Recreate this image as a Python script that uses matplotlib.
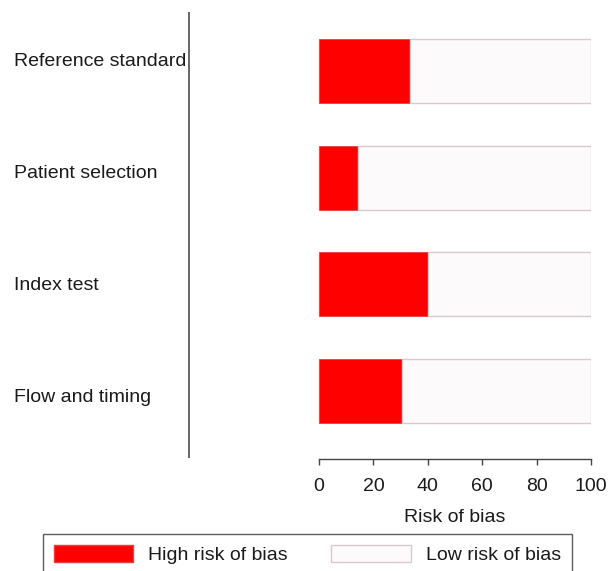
import matplotlib
matplotlib.use("Agg")
import matplotlib.pyplot as plt
from matplotlib.patches import Patch

plt.rcParams['font.family'] = ['Liberation Sans', 'DejaVu Sans']
plt.rcParams['font.size'] = 14

# QUADAS-2 domains, top to bottom
domains = ["Reference standard", "Patient selection", "Index test", "Flow and timing"]
high_risk = [33.5, 14.5, 40.0, 30.5]
low_risk = [100 - v for v in high_risk]
x_ticks = [0, 20, 40, 60, 80, 100]

RED = "#ff0000"
LOW_FACE = "#fdfafb"
LOW_EDGE = "#dac8cd"
TXT = "#1a1a1a"

W, H = 611, 571
fig = plt.figure(figsize=(W / 100, H / 100), dpi=100)

# ── left panel: domain labels + divider line ──
axl = fig.add_axes([0, 1 - 457 / H, 189 / W, 444 / H])
axl.set_xlim(0, 1)
axl.set_ylim(3.531, -0.433)
for s in ["top", "bottom", "left"]:
    axl.spines[s].set_visible(False)
axl.spines["right"].set_color("#666666")
axl.spines["right"].set_linewidth(1.4)
axl.set_xticks([]); axl.set_yticks([])
for i, name in enumerate(domains):
    axl.text(14 / 189, i, name, ha="left", va="center", color=TXT, fontsize=14)

# ── right panel: stacked horizontal bars ──
ax = fig.add_axes([319 / W, 1 - 459 / H, 272 / W, 446 / H])
y = list(range(len(domains)))
ax.barh(y, high_risk, height=0.6, color=RED, edgecolor="#e04040", linewidth=0.6)
ax.barh(y, low_risk, left=high_risk, height=0.6, color=LOW_FACE,
        edgecolor=LOW_EDGE, linewidth=1.0)
ax.set_xlim(0, 100)
ax.set_ylim(3.64, -0.544)
for s in ["top", "right", "left"]:
    ax.spines[s].set_visible(False)
ax.spines["bottom"].set_color("#444444")
ax.spines["bottom"].set_linewidth(1.0)
ax.set_yticks([])
ax.set_xticks(x_ticks)
ax.tick_params(axis="x", direction="out", length=4.5, width=1.0, color="#444444",
               pad=9, labelsize=14, labelcolor=TXT)
ax.set_xlabel("Risk of bias", fontsize=14, color=TXT, labelpad=10)

# ── legend along the bottom ──
handles = [Patch(facecolor=RED, edgecolor="#e04040", label="High risk of bias"),
           Patch(facecolor=LOW_FACE, edgecolor=LOW_EDGE, label="Low risk of bias")]
leg = fig.legend(handles=handles, loc="upper left", bbox_to_anchor=(43 / W, 1 - 534 / H),
                 ncol=2, frameon=True, fancybox=False, borderaxespad=0,
                 handlelength=4.1, handleheight=1.0, handletextpad=0.75,
                 columnspacing=2.25, borderpad=0.55, fontsize=14)
leg.get_frame().set_edgecolor("#333333")
leg.get_frame().set_linewidth(1.0)
for t in leg.get_texts():
    t.set_color(TXT)

fig.savefig("out.png", dpi=100)
